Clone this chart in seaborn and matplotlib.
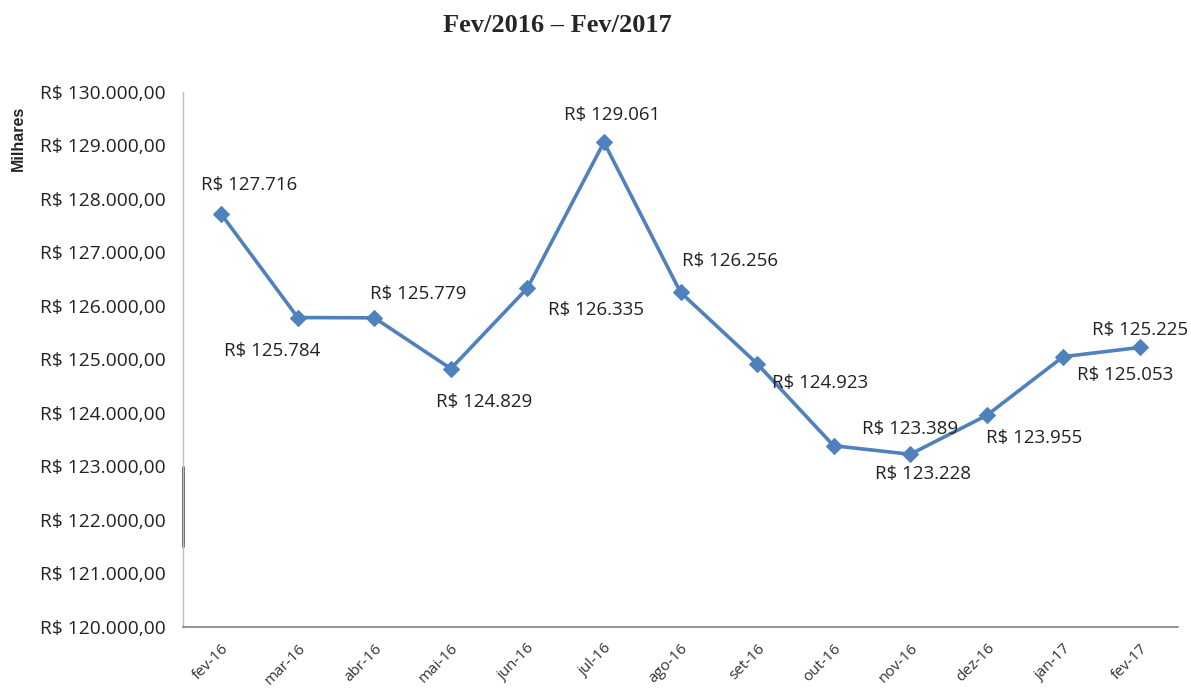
import matplotlib
matplotlib.use("Agg")
import matplotlib.pyplot as plt
import seaborn as sns
import pandas as pd

months = ["fev-16", "mar-16", "abr-16", "mai-16", "jun-16", "jul-16", "ago-16",
          "set-16", "out-16", "nov-16", "dez-16", "jan-17", "fev-17"]
values = [127716, 125784, 125779, 124829, 126335, 129061, 126256,
          124923, 123389, 123228, 123955, 125053, 125225]
yticks = [120000, 121000, 122000, 123000, 124000, 125000, 126000, 127000,
          128000, 129000, 130000]
title = "Fev/2016 – Fev/2017"
ylabel = "Milhares"

sns.set_theme(style="white")
plt.rcParams['font.family'] = ['Open Sans', 'DejaVu Sans']

def brl(v, dec=True):
    s = f"{v:,.0f}".replace(",", ".")
    return f"R$ {s},00" if dec else f"R$ {s}"

df = pd.DataFrame({"mes": months, "valor": values})

fig = plt.figure(figsize=(11.91, 6.89), dpi=100)
ax = fig.add_axes([183/1191, 1 - 627/689, (1178-183)/1191, (627-92)/689])

sns.lineplot(data=df, x="mes", y="valor", ax=ax, sort=False, color="#4F81BD",
             linewidth=2.6, marker="D", markersize=8, markeredgecolor="#4F81BD")

ax.set_xlim(-0.5, len(months) - 0.5)
ax.set_ylim(120000, 130000)
ax.set_yticks(yticks)
ax.set_yticklabels([brl(v) for v in yticks], fontsize=13.8, color="#222222")
ax.set_xticks(range(len(months)))
ax.set_xticklabels(months, rotation=45, ha="right", rotation_mode="anchor",
                   fontsize=11, color="#333333")
ax.tick_params(axis="y", length=0, pad=12.5)
ax.tick_params(axis="x", length=0, pad=10)
ax.set_xlabel("")
ax.set_ylabel("")

for s in ["top", "right"]:
    ax.spines[s].set_visible(False)
ax.spines["left"].set_color("#BFBFBF")
ax.spines["left"].set_linewidth(1.0)
ax.spines["bottom"].set_color("#808080")
ax.spines["bottom"].set_linewidth(1.2)

# dark segment artifact on the y-axis
ax.plot([-0.5, -0.5], [121500, 123000], color="#555555", linewidth=2.0,
        clip_on=False, solid_capstyle="butt")

# data label offsets in pixels (dx, dy) relative to point
offsets = [(28, 29), (-26, -33), (44, 24), (33, -33), (69, -22), (8, 27),
           (50, 31), (63, -19), (76, 17), (13, -20), (47, -23), (62, -18), (0, 17)]
for i, (m, v) in enumerate(zip(months, values)):
    dx, dy = offsets[i]
    ax.annotate(brl(v, dec=False), xy=(i, v), xytext=(dx, dy),
                textcoords="offset pixels", ha="center", va="center",
                fontsize=13.5, color="#222222")

fig.text(557/1191, 1 - 26/689, title, ha="center", va="center",
         fontsize=19, fontweight="bold", family="Liberation Serif")
fig.text(18/1191, 1 - 138/689, ylabel, ha="center", va="center", rotation=90,
         fontsize=11.5, fontweight="bold", family="Liberation Sans")

fig.savefig("out.png", dpi=100)
